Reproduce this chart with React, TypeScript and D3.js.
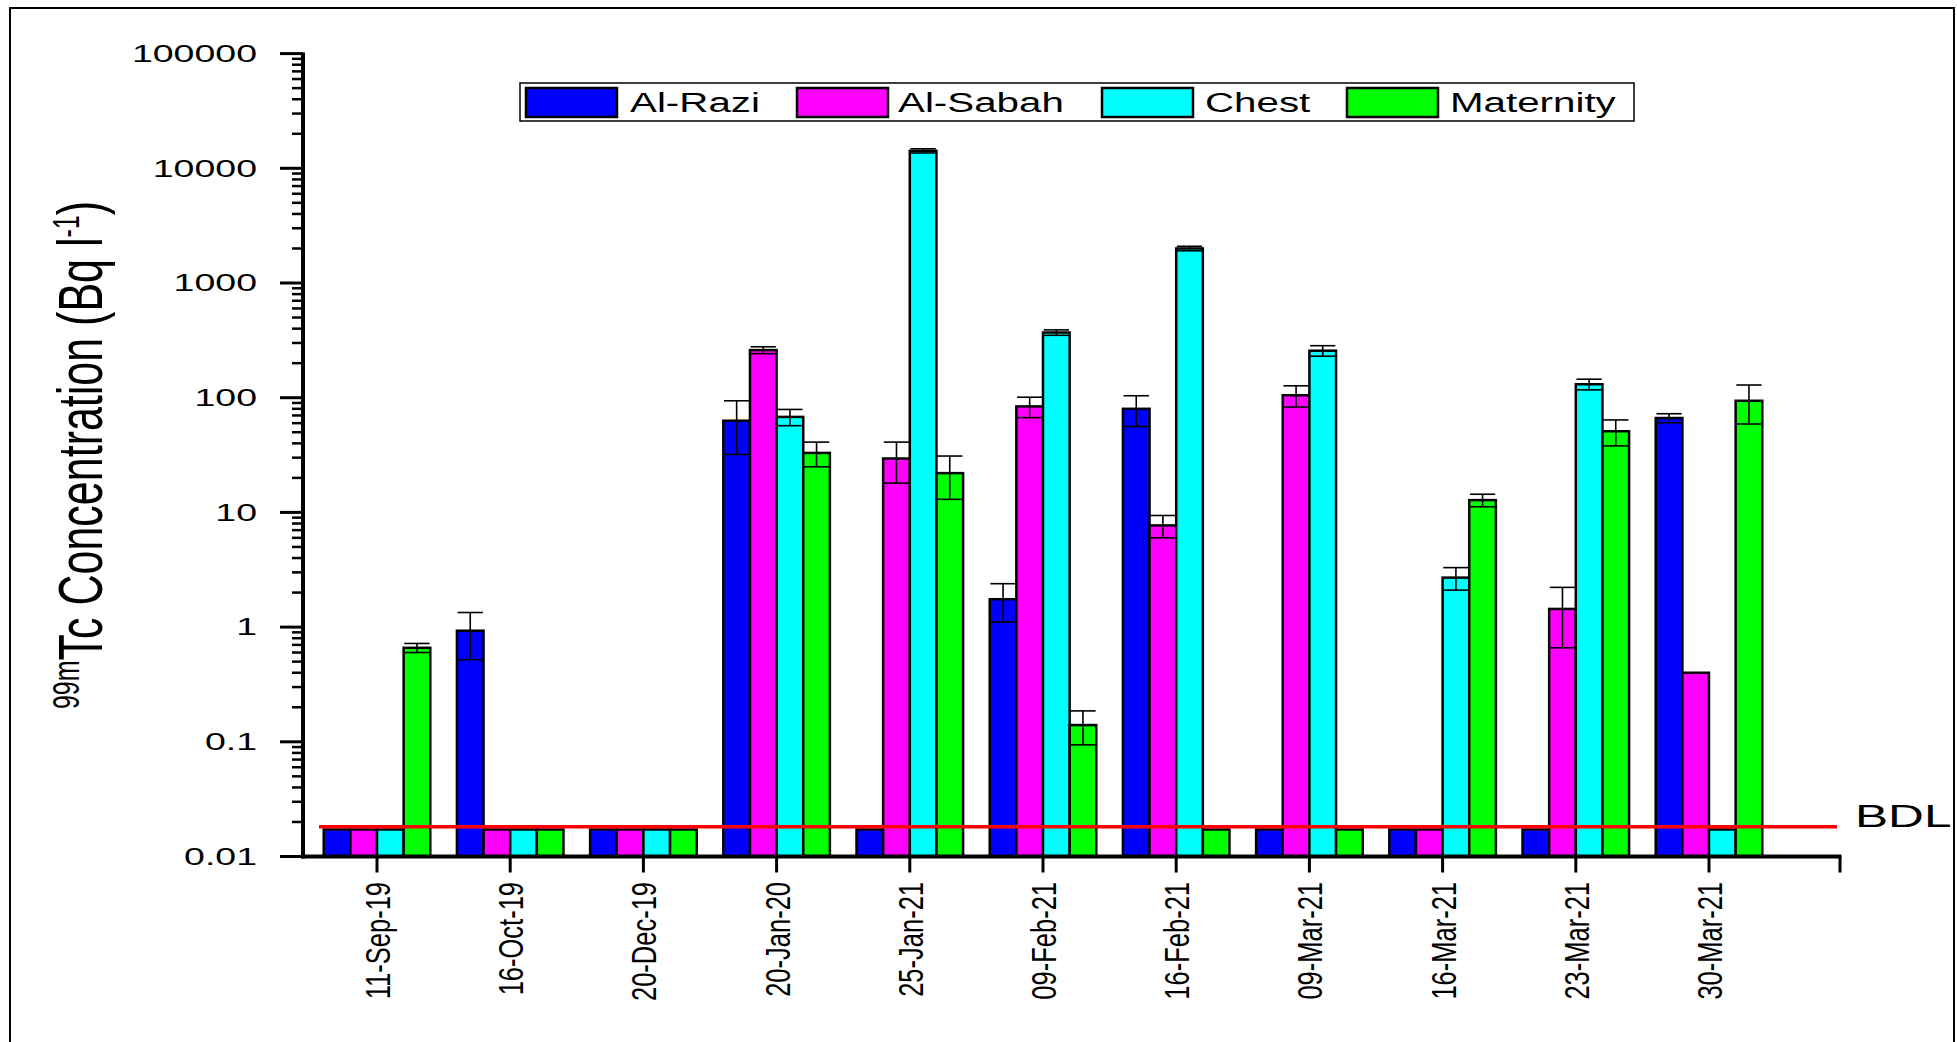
import React, { useEffect } from "react";
import * as d3 from "d3";

const categories = ["11-Sep-19", "16-Oct-19", "20-Dec-19", "20-Jan-20", "25-Jan-21", "09-Feb-21", "16-Feb-21", "09-Mar-21", "16-Mar-21", "23-Mar-21", "30-Mar-21"];
const seriesNames = ["Al-Razi", "Al-Sabah", "Chest", "Maternity"];
const seriesColors = ["#0000FF", "#FF00FF", "#00FFFF", "#00FF00"];
const B = 0.0172; // bars drawn for below-detection-limit samples
const bdlLineValue = 0.0182;

const alRazi = [B, 0.93, B, 63, B, 1.75, 80, B, B, B, 66.5];
const alRaziErr = [0, 0.41, 0, 31, 0, 0.64, 24, 0, 0, 0, 6];
const alSabah = [B, B, B, 260, 29.5, 84, 7.7, 105, B, 1.44, 0.4];
const alSabahErr = [0, 0, 0, 18, 11.5, 17, 1.7, 22, 0, 0.78, 0];
const chest = [B, B, B, 68, 14200, 370, 2000, 257, 2.7, 131, B];
const chestErr = [0, 0, 0, 11, 600, 20, 90, 27, 0.6, 14, 0];
const maternity = [0.66, B, B, 33, 22, 0.14, B, B, 12.8, 51, 94];
const maternityErr = [0.06, 0, 0, 8, 9, 0.046, 0, 0, 1.6, 13, 35];

const yTicks = [0.01, 0.1, 1, 10, 100, 1000, 10000, 100000];
const yTickLabels = ["0.01", "0.1", "1", "10", "100", "1000", "10000", "100000"];

const FONT = "'Liberation Sans', Arial, Helvetica, sans-serif";

export default function App() {
  useEffect(() => {
    document.body.style.margin = "0";
    document.body.style.overflow = "hidden";
  }, []);

  const values = [alRazi, alSabah, chest, maternity];
  const errors = [alRaziErr, alSabahErr, chestErr, maternityErr];

  const step = 133.2;
  const firstCenter = 377;
  const x = d3
    .scaleBand<string>()
    .domain(categories)
    .range([firstCenter - step / 2, firstCenter - step / 2 + step * categories.length])
    .padding(0);
  const groupW = step * 0.8;
  const xs = d3.scaleBand<string>().domain(seriesNames).range([-groupW / 2, groupW / 2]).padding(0);
  const y = d3.scaleLog().domain([0.01, 100000]).range([856.5, 53.6]);
  const axisLeft = 303;
  const axisRight = 1840;
  const y0 = y(0.01);

  const minorTicks: number[] = [];
  for (let e = -2; e < 5; e++) {
    for (let m = 2; m <= 9; m++) minorTicks.push(m * Math.pow(10, e));
  }

  const bw = xs.bandwidth();
  const capW = bw * 0.95;

  return (
    <svg width={1957} height={1042} style={{ position: "absolute", left: 0, top: 0, background: "#fff" }}>
      <rect x={0} y={0} width={1957} height={1042} fill="#fff" />
      <rect x={10} y={8} width={1944} height={1100} fill="none" stroke="#000" strokeWidth={2} />

      {/* bars */}
      {categories.map((c, i) => (
        <g key={c}>
          {seriesNames.map((s, j) => {
            const v = values[j][i];
            const bx = (x(c) as number) + step / 2 + (xs(s) as number);
            const top = y(v);
            return (
              <rect key={s} x={bx} y={top} width={bw} height={y0 - top} fill={seriesColors[j]} stroke="#000" strokeWidth={2.5} />
            );
          })}
        </g>
      ))}

      {/* error bars */}
      {categories.map((c, i) => (
        <g key={"e" + c}>
          {seriesNames.map((s, j) => {
            const v = values[j][i];
            const e = errors[j][i];
            if (!e) return null;
            const cx = (x(c) as number) + step / 2 + (xs(s) as number) + bw / 2;
            const yt = y(v + e);
            const yb = y(v - e);
            return (
              <g key={s} stroke="#000" strokeWidth={1.6}>
                <line x1={cx} x2={cx} y1={yt} y2={yb} />
                <line x1={cx - capW / 2} x2={cx + capW / 2} y1={yt} y2={yt} />
                <line x1={cx - capW / 2} x2={cx + capW / 2} y1={yb} y2={yb} />
              </g>
            );
          })}
        </g>
      ))}

      {/* BDL line */}
      <line x1={319} x2={1837} y1={y(bdlLineValue)} y2={y(bdlLineValue)} stroke="#FF0000" strokeWidth={3.5} />
      <g transform={`translate(1855, ${y(bdlLineValue)}) scale(1.6,1)`}>
        <text x={0} y={0} fontFamily={FONT} fontSize={31} fill="#000">BDL</text>
      </g>

      {/* y axis */}
      <line x1={axisLeft} x2={axisLeft} y1={y(100000) - 1} y2={y0 + 2} stroke="#000" strokeWidth={4} />
      {yTicks.map((t) => (
        <line key={"yt" + t} x1={280} x2={axisLeft} y1={y(t)} y2={y(t)} stroke="#000" strokeWidth={3} />
      ))}
      {minorTicks.map((t) => (
        <line key={"ym" + t} x1={292} x2={axisLeft} y1={y(t)} y2={y(t)} stroke="#000" strokeWidth={2.5} />
      ))}
      {yTicks.map((t, i) => (
        <g key={"yl" + t} transform={`translate(257, ${y(t) + 8.3}) scale(1.63,1)`}>
          <text x={0} y={0} textAnchor="end" fontFamily={FONT} fontSize={23} fill="#000">
            {yTickLabels[i]}
          </text>
        </g>
      ))}

      {/* x axis */}
      <line x1={axisLeft - 2} x2={axisRight + 1.5} y1={y0} y2={y0} stroke="#000" strokeWidth={4} />
      {categories.map((c) => {
        const cx = (x(c) as number) + step / 2;
        return <line key={"xt" + c} x1={cx} x2={cx} y1={y0} y2={y0 + 16} stroke="#000" strokeWidth={3} />;
      })}
      <line x1={axisRight} x2={axisRight} y1={y0} y2={y0 + 16} stroke="#000" strokeWidth={3} />
      {categories.map((c) => {
        const cx = (x(c) as number) + step / 2;
        return (
          <g key={"xl" + c} transform={`translate(${cx + 13}, 882) rotate(-90) scale(1,1.4)`}>
            <text x={0} y={0} textAnchor="end" fontFamily={FONT} fontSize={25.5} fill="#000">
              {c}
            </text>
          </g>
        );
      })}

      {/* y axis title */}
      <g transform="translate(102, 455) rotate(-90) scale(1,1.45)">
        <text x={0} y={0} textAnchor="middle" fontFamily={FONT} fontSize={43} fill="#000">
          <tspan fontSize={25} dy={-16}>99m</tspan>
          <tspan dy={16}>Tc Concentration (Bq l</tspan>
          <tspan fontSize={25} dy={-16}>-1</tspan>
          <tspan dy={16}>)</tspan>
        </text>
      </g>

      {/* legend */}
      <rect x={520} y={83} width={1114} height={38} fill="#fff" stroke="#000" strokeWidth={1.5} />
      {seriesNames.map((s, j) => {
        const sw = [526, 797, 1102, 1347][j];
        const tx = [630, 898, 1205, 1450][j];
        return (
          <g key={"lg" + s}>
            <rect x={sw} y={88} width={91} height={29} fill={seriesColors[j]} stroke="#000" strokeWidth={2.5} />
            <g transform={`translate(${tx}, 111.5) scale(1.44,1)`}>
              <text x={0} y={0} fontFamily={FONT} fontSize={28} fill="#000">{s}</text>
            </g>
          </g>
        );
      })}
    </svg>
  );
}
